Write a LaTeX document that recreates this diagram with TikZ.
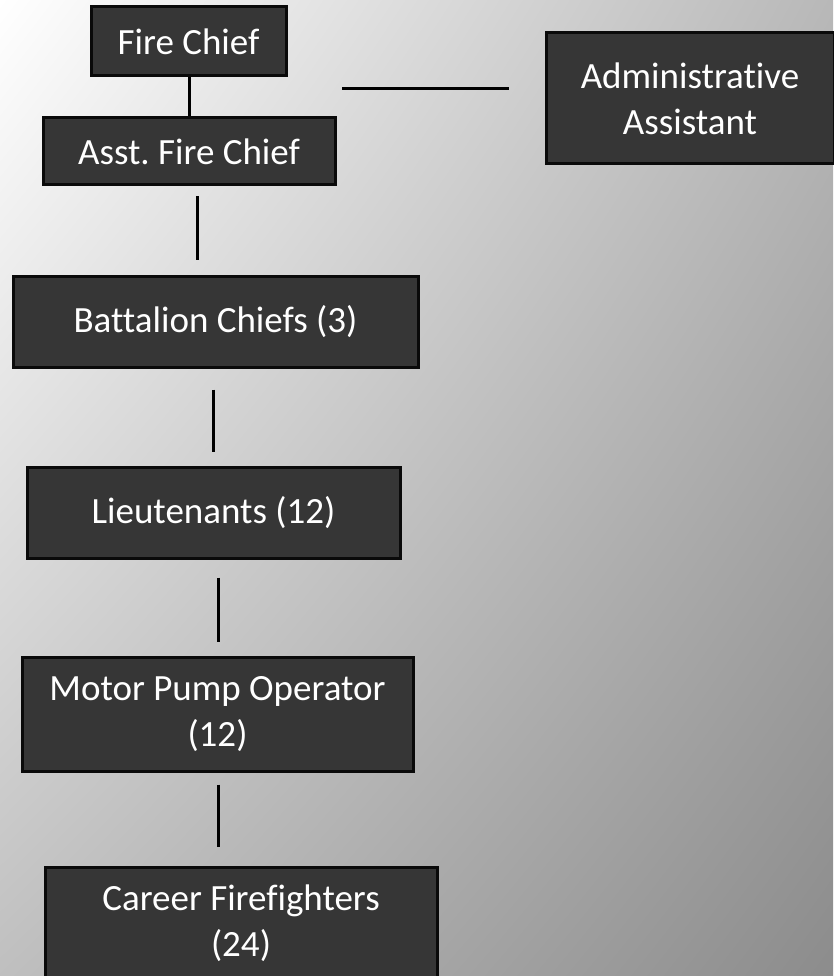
\documentclass[tikz,border=0pt]{standalone}
\usepackage{fontspec}
\setmainfont{Carlito}[Ligatures=NoCommon]
\usetikzlibrary{positioning,calc,shadings}
\definecolor{boxfill}{HTML}{363636}
\definecolor{boxedge}{HTML}{0A0A0A}
\definecolor{paperlo}{HTML}{8C8C8C}
\definecolor{papermid}{HTML}{B8B8B8}

\tikzset{
  rank/.style={draw=boxedge,line width=3pt,fill=boxfill,text=white,
    align=center,inner sep=0pt,font=\fontsize{37}{46}\selectfont},
  link/.style={line width=3pt,draw=black}
}

\begin{document}
\frenchspacing
\begin{tikzpicture}[x=1pt,y=-1pt]
  % paper
  \shade[upper left=white,upper right=papermid,lower left=black!25,lower right=paperlo]
    (0,0) rectangle (833,976);
  \useasboundingbox (0,0) rectangle (833,976);
  % boxes
  \node[rank,minimum width=195pt,minimum height=69pt] (chief) at (188.5,41.5) {Fire Chief};
  \node[rank,minimum width=292pt,minimum height=67pt] (asst) at (189,151.5) {Asst. Fire Chief};
  \node[rank,minimum width=288pt,minimum height=131pt] (admin) at (690,98.5) {Administrative\\Assistant};
  \node[rank,minimum width=405pt,minimum height=91pt] (batt) at (215.5,321.5) {Battalion Chiefs (3)};
  \node[rank,minimum width=373pt,minimum height=91pt] (lieut) at (213.5,512.5) {Lieutenants (12)};
  \node[rank,minimum width=391pt,minimum height=114pt] (mpo) at (217.5,714) {Motor Pump Operator\\(12)};
  \node[rank,minimum width=392pt,minimum height=113pt] (career) at (241,923.5) {Career Firefighters\\(24)};
  % links
  \draw[link] ([xshift=0.5pt]chief.south) -- ([xshift=0.5pt]chief.south |- asst.north);
  \coordinate (tee) at (342,89);
  \draw[link,shorten >=36pt] (tee) -- (tee -| admin.west);
  \draw[link,shorten <=10pt,shorten >=15pt] ([xshift=8pt]asst.south) -- ([xshift=8pt]asst.south |- batt.north);
  \draw[link,shorten <=21pt,shorten >=14pt] ([xshift=-2.5pt]batt.south) -- ([xshift=-2.5pt]batt.south |- lieut.north);
  \draw[link,shorten <=18pt,shorten >=14pt] ([xshift=4.5pt]lieut.south) -- ([xshift=4.5pt]lieut.south |- mpo.north);
  \draw[link,shorten <=12pt,shorten >=19pt] ([xshift=0.5pt]mpo.south) -- ([xshift=0.5pt]mpo.south |- career.north);
\end{tikzpicture}
\end{document}
